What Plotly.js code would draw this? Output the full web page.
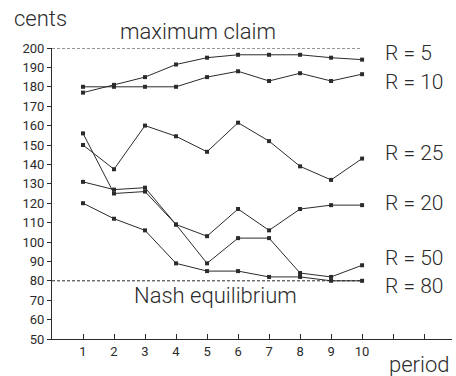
<!DOCTYPE html>
<html>
<head>
<meta charset="utf-8">
<script src="https://cdn.plot.ly/plotly-3.0.1.min.js"></script>
<style>html,body{margin:0;padding:0;background:#fff;}#chart{width:456px;height:376px;}</style>
</head>
<body>
<div id="chart"></div>
<script>
const periods = [1, 2, 3, 4, 5, 6, 7, 8, 9, 10];
const r5  = [177, 181, 185, 191.5, 195, 196.5, 196.5, 196.5, 195, 194];
const r10 = [180, 180, 180, 180, 185, 188, 183, 187, 183, 186.5];
const r25 = [150, 137.5, 160, 154.5, 146.5, 161.5, 152, 139, 132, 143];
const r20 = [131, 127, 128, 109, 103, 117, 106, 117, 119, 119];
const r50 = [156, 125, 126, 109, 89, 102, 102, 84, 82, 88];
const r80 = [120, 112, 106, 89, 85, 85, 82, 82, 80, 80];
const maxClaim = 200;
const nashEq = 80;
const seriesLabels = ["R = 5", "R = 10", "R = 25", "R = 20", "R = 50", "R = 80"];
const xTickVals = [1, 2, 3, 4, 5, 6, 7, 8, 9, 10, 11, 12];
const xTickText = ["1", "2", "3", "4", "5", "6", "7", "8", "9", "10", "", ""];
const yTickVals = [50, 60, 70, 80, 90, 100, 110, 120, 130, 140, 150, 160, 170, 180, 190, 200];

const ink = '#2b2b2b';
const fontFam = 'Roboto, "Liberation Sans", Arial, sans-serif';
const allSeries = [r5, r10, r25, r20, r50, r80];

const traces = allSeries.map(s => ({
  x: periods, y: s, type: 'scatter', mode: 'lines+markers',
  line: {color: ink, width: 1},
  marker: {symbol: 'square', size: 4, color: ink},
  hoverinfo: 'skip', cliponaxis: false
}));
traces.push({x: [0, 10], y: [maxClaim, maxClaim], type: 'scatter', mode: 'lines',
  line: {color: ink, width: 1, dash: '3px,2px'}, hoverinfo: 'skip'});
traces.push({x: [0, 10], y: [nashEq, nashEq], type: 'scatter', mode: 'lines',
  line: {color: ink, width: 1, dash: '3px,2px'}, hoverinfo: 'skip'});

const labelY = [197.4, 182.4, 145.7, 119.9, 91.5, 77.5];
const bigFont = {family: fontFam, size: 21, color: ink, weight: 300};
const textFont = {family: fontFam, size: 22, color: ink, weight: 300};
const annotations = seriesLabels.map((t, i) => ({
  text: t, x: 10.68, y: labelY[i], xref: 'x', yref: 'y', xanchor: 'left', yanchor: 'middle',
  showarrow: false, font: bigFont
}));
annotations.push({text: 'cents', x: -0.1, y: 1.103, xref: 'paper', yref: 'paper', xanchor: 'left', yanchor: 'middle', showarrow: false, font: textFont});
annotations.push({text: 'maximum claim', x: 0.165, y: 1.056, xref: 'paper', yref: 'paper', xanchor: 'left', yanchor: 'middle', showarrow: false, font: textFont});
annotations.push({text: 'Nash equilibrium', x: 2.58, y: 72.4, xref: 'x', yref: 'y', xanchor: 'left', yanchor: 'middle', showarrow: false, font: textFont});
annotations.push({text: 'period', x: 0.8375, y: -0.0893, xref: 'paper', yref: 'paper', xanchor: 'left', yanchor: 'middle', showarrow: false, font: textFont});

const layout = {
  width: 456, height: 376,
  margin: {l: 52, r: 4, t: 48, b: 37, pad: 0},
  paper_bgcolor: '#fff', plot_bgcolor: '#fff',
  showlegend: false,
  font: {family: fontFam, color: ink},
  xaxis: {
    range: [0, 12.9], tickvals: xTickVals, ticktext: xTickText,
    ticks: 'inside', ticklen: 5, tickcolor: ink, tickwidth: 1,
    showline: true, linecolor: ink, linewidth: 1, showgrid: false, zeroline: false,
    tickfont: {family: fontFam, size: 13, color: ink}
  },
  yaxis: {
    range: [50, 200], tickvals: yTickVals,
    ticks: 'outside', ticklen: 4, tickcolor: ink, tickwidth: 1,
    showline: true, linecolor: ink, linewidth: 1, showgrid: false, zeroline: false,
    tickfont: {family: fontFam, size: 13, color: ink}
  },
  annotations: annotations
};

Plotly.newPlot('chart', traces, layout, {staticPlot: true, displayModeBar: false});
</script>
</body>
</html>
